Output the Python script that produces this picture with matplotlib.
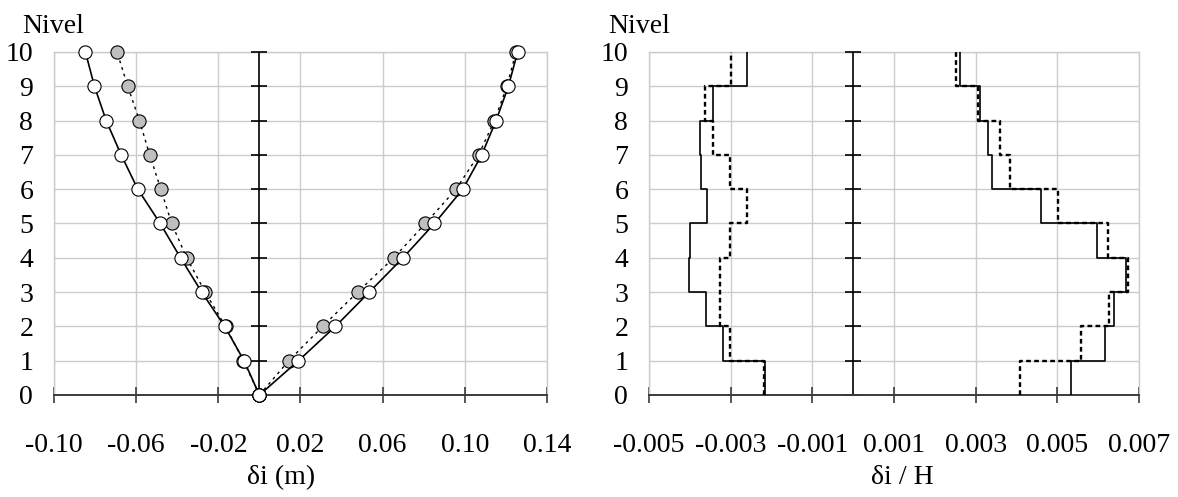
import numpy as np
import matplotlib
matplotlib.use("Agg")
import matplotlib.pyplot as plt

plt.rcParams['font.family'] = ['Liberation Serif', 'DejaVu Serif']
plt.rcParams['font.size'] = 20

# ---------------- data ----------------
levels = [0, 1, 2, 3, 4, 5, 6, 7, 8, 9, 10]

# Left panel: lateral displacements (m), levels 0..10
disp_neg_white = [0.0, -0.0075, -0.0169, -0.0281, -0.0384, -0.0483, -0.0592, -0.0673, -0.0746, -0.0803, -0.0847]
disp_neg_gray = [0.0, -0.0078, -0.0165, -0.0264, -0.0354, -0.0427, -0.0480, -0.0534, -0.0584, -0.0641, -0.0693]
disp_pos_white = [0.0, 0.0190, 0.0370, 0.0535, 0.0699, 0.0852, 0.0990, 0.1082, 0.1152, 0.1212, 0.1257]
disp_pos_gray = [0.0, 0.0143, 0.0308, 0.0478, 0.0654, 0.0808, 0.0957, 0.1067, 0.1144, 0.1205, 0.1249]

# Right panel: interstory drift ratios, stories 1..10
stories = [1, 2, 3, 4, 5, 6, 7, 8, 9, 10]
drift_neg_solid = [-0.00216, -0.00319, -0.00361, -0.00402, -0.00400, -0.00357, -0.00373, -0.00375, -0.00343, -0.00259]
drift_neg_dot = [-0.00219, -0.00302, -0.00326, -0.00325, -0.00302, -0.00261, -0.00302, -0.00344, -0.00363, -0.00298]
drift_pos_solid = [0.00533, 0.00616, 0.00639, 0.00668, 0.00598, 0.00459, 0.00341, 0.00330, 0.00311, 0.00261]
drift_pos_dot = [0.00408, 0.00557, 0.00626, 0.00674, 0.00625, 0.00501, 0.00384, 0.00359, 0.00305, 0.00251]

xticks_left = [-0.10, -0.06, -0.02, 0.02, 0.06, 0.10, 0.14]
xticklabels_left = ['-0.10', '-0.06', '-0.02', '0.02', '0.06', '0.10', '0.14']
xticks_right = [-0.005, -0.003, -0.001, 0.001, 0.003, 0.005, 0.007]
xticklabels_right = ['-0.005', '-0.003', '-0.001', '0.001', '0.003', '0.005', '0.007']

GRID = '#cccccc'
AXC = '#3a3a3a'

W, H = 1178, 497
fig = plt.figure(figsize=(W / 100, H / 100), dpi=100)

def px_axes(x0, x1, ytop, ybot):
    return fig.add_axes([x0 / W, 1 - ybot / H, (x1 - x0) / W, (ybot - ytop) / H])

ax1 = px_axes(54, 547, 52, 395)
ax2 = px_axes(649, 1139, 52, 395)


def style_axes(ax, xlim, xticks, xticklabels, xlabel, label_x):
    ax.set_xlim(*xlim)
    ax.set_ylim(0, 10)
    ax.set_yticks(levels)
    ax.set_yticklabels([str(v) for v in levels])
    ax.set_xticks(xticks)
    ax.set_xticklabels(xticklabels)
    ax.grid(True, color=GRID, lw=1.0, zorder=0)
    ax.set_axisbelow(True)
    for s in ['top', 'right', 'left']:
        ax.spines[s].set_color(GRID)
        ax.spines[s].set_linewidth(1.0)
    ax.spines['bottom'].set_color(AXC)
    ax.spines['bottom'].set_linewidth(1.4)
    ax.spines['bottom'].set_zorder(3)
    ax.tick_params(axis='y', length=0, pad=15)
    ax.tick_params(axis='x', direction='inout', length=11, width=1.2, color=AXC, pad=22)
    ax.set_xlabel(xlabel)
    ax.xaxis.set_label_coords(label_x, -0.205)
    # central vertical axis at x = 0 with crossing ticks
    ax.axvline(0, color='black', lw=1.2, zorder=3)
    ax.plot(np.zeros(len(levels)), levels, linestyle='none', marker='_', ms=11.5,
            mew=1.2, color='black', clip_on=False, zorder=3)


style_axes(ax1, (-0.10, 0.14), xticks_left, xticklabels_left, 'δi (m)', 0.46)
style_axes(ax2, (-0.005, 0.007), xticks_right, xticklabels_right, 'δi / H', 0.516)

# ---------------- left panel ----------------
for xs in (disp_neg_gray, disp_pos_gray):
    ax1.plot(xs, levels, color='black', lw=1.0, linestyle=(0, (2, 3)), zorder=4,
             marker='o', ms=9.5, mfc='#bfbfbf', mec='black', mew=0.8, clip_on=False)
for xs in (disp_neg_white, disp_pos_white):
    ax1.plot(xs, levels, color='black', lw=1.2, linestyle='-', zorder=5,
             marker='o', ms=9.5, mfc='white', mec='black', mew=0.8, clip_on=False)

# ---------------- right panel ----------------
def step_xy(vals):
    xs = np.repeat(vals, 2)
    ys = np.concatenate([[s - 1, s] for s in stories])
    return xs, ys

for vals in (drift_neg_dot, drift_pos_dot):
    xs, ys = step_xy(vals)
    ax2.plot(xs, ys, color='black', lw=1.7, linestyle=(0, (2.0, 1.4)), zorder=4)
for vals in (drift_neg_solid, drift_pos_solid):
    xs, ys = step_xy(vals)
    ax2.plot(xs, ys, color='black', lw=1.2, linestyle='-', zorder=5)

fig.text(22 / W, 1 - 33 / H, 'Nivel', ha='left', va='baseline', fontsize=20)
fig.text(608 / W, 1 - 33 / H, 'Nivel', ha='left', va='baseline', fontsize=20)

fig.savefig('out.png', dpi=100)
